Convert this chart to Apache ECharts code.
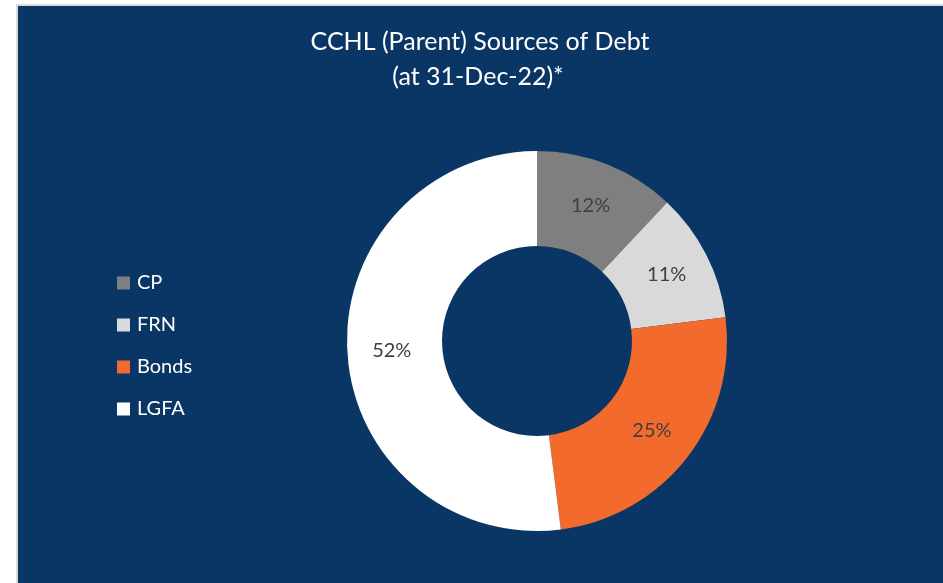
<!DOCTYPE html>
<html>
<head>
<meta charset="utf-8">
<script src="https://cdn.jsdelivr.net/npm/echarts@6/dist/echarts.min.js"></script>
<style>
html,body{margin:0;padding:0;background:#ffffff;}
#chart{width:943px;height:583px;}
</style>
</head>
<body>
<div id="chart"></div>
<script>
const titleLines = ['CCHL (Parent) Sources of Debt', '(at 31-Dec-22)*'];
const categories = ['CP', 'FRN', 'Bonds', 'LGFA'];
const values = [12, 11, 25, 52];
const colors = ['#7f7f7f', '#d9d9d9', '#f26b2c', '#ffffff'];

const chart = echarts.init(document.getElementById('chart'), null, {renderer: 'canvas'});
const font = 'Lato, "Open Sans", sans-serif';
chart.setOption({
  animation: false,
  backgroundColor: '#ffffff',
  graphic: [
    {type: 'rect', shape: {x: 16, y: 4, width: 927, height: 579}, style: {fill: '#d9d9d9'}, z: -10, silent: true},
    {type: 'rect', shape: {x: 18, y: 6, width: 925, height: 577}, style: {fill: '#0a3666'}, z: -9, silent: true},
    {type: 'text', x: 480, y: 42, style: {text: titleLines[0], fill: '#ffffff', font: '25px ' + font, textAlign: 'center', textVerticalAlign: 'middle'}},
    {type: 'text', x: 478, y: 77, style: {text: titleLines[1], fill: '#ffffff', font: '25px ' + font, textAlign: 'center', textVerticalAlign: 'middle'}}
  ],
  legend: {
    orient: 'vertical',
    left: 117,
    top: 272,
    padding: 0,
    icon: 'rect',
    itemWidth: 13,
    itemHeight: 13,
    itemGap: 20,
    textStyle: {color: '#ffffff', fontSize: 20, fontFamily: font, lineHeight: 22, padding: [0, 0, 0, 2]},
    data: categories
  },
  series: [{
    type: 'pie',
    center: [537, 341],
    radius: [95, 190],
    startAngle: 90,
    clockwise: true,
    avoidLabelOverlap: false,
    label: {
      show: true,
      position: 'inside',
      formatter: '{d}%',
      color: '#404040',
      fontSize: 20,
      fontFamily: font
    },
    labelLine: {show: false},
    itemStyle: {borderWidth: 0},
    emphasis: {disabled: true},
    data: categories.map((c, i) => ({name: c, value: values[i], itemStyle: {color: colors[i]}}))
  }]
});
</script>
</body>
</html>
